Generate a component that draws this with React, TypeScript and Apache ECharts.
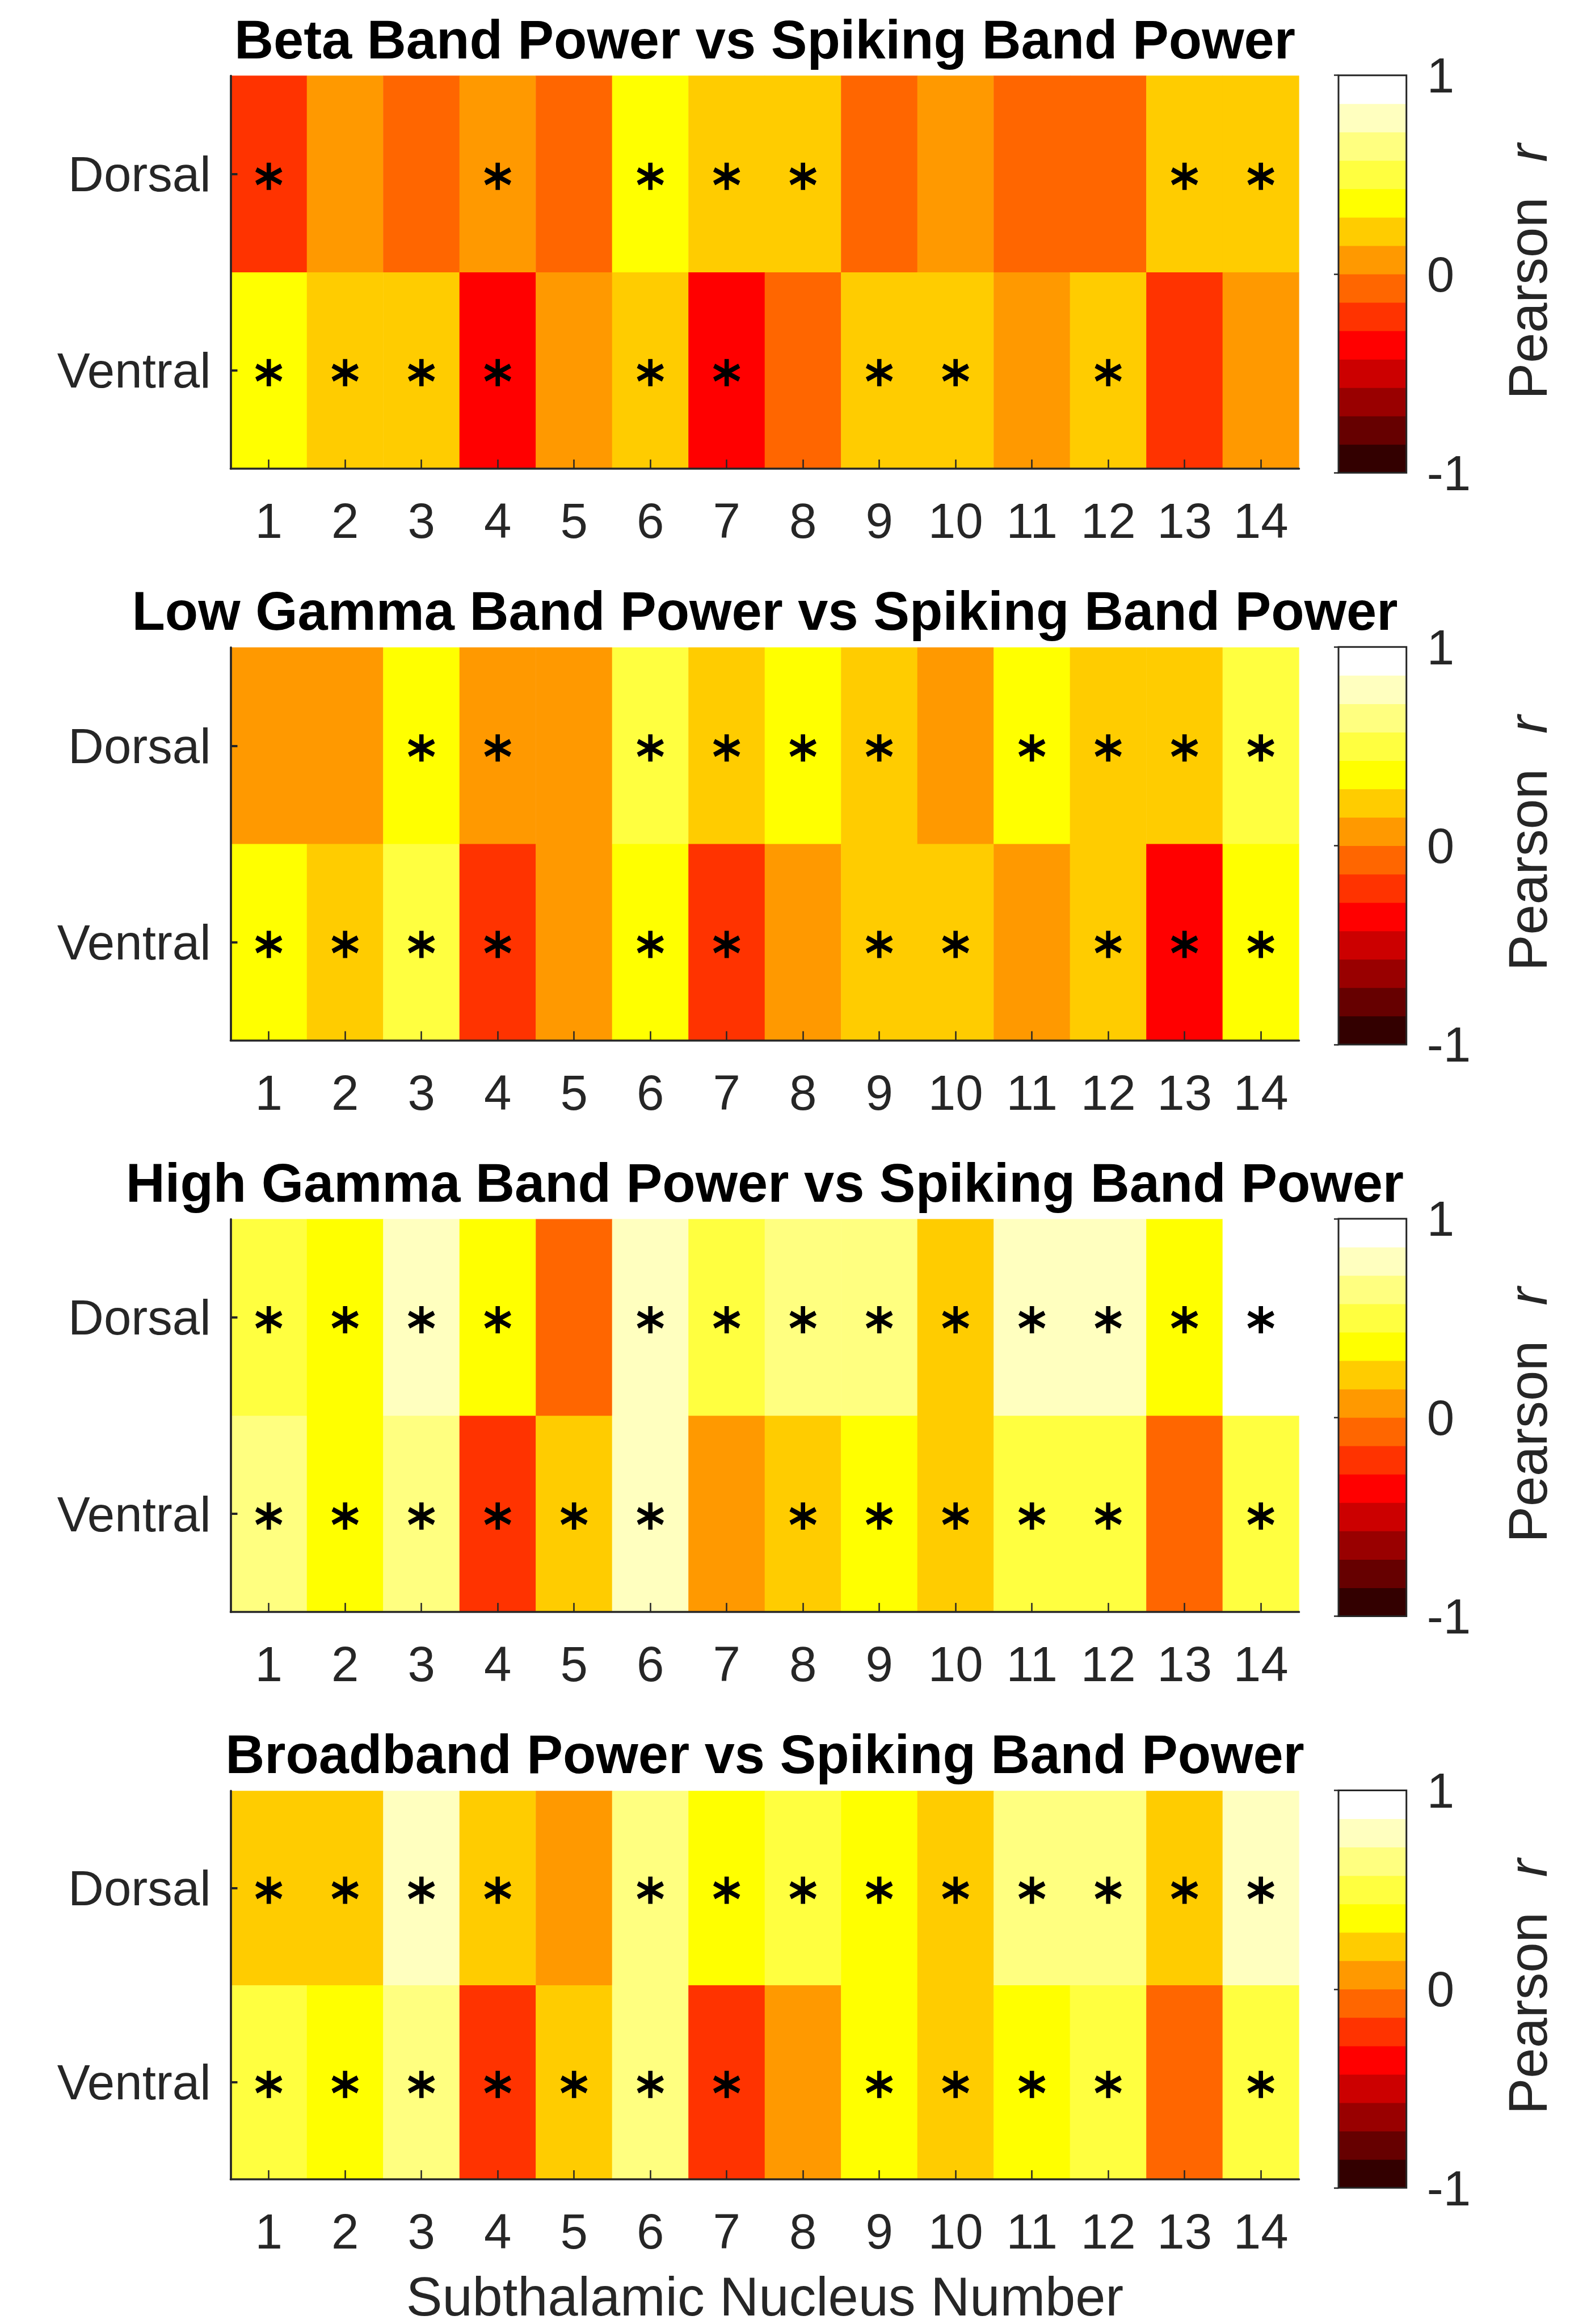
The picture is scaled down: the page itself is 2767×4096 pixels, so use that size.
import React, { useEffect, useRef } from 'react';
import * as echarts from 'echarts';

// ---------- data ----------
const nuclei = ['1', '2', '3', '4', '5', '6', '7', '8', '9', '10', '11', '12', '13', '14'];
const regions = ['Ventral', 'Dorsal'];
const panelTitles = [
  'Beta Band Power vs Spiking Band Power',
  'Low Gamma Band Power vs Spiking Band Power',
  'High Gamma Band Power vs Spiking Band Power',
  'Broadband Power vs Spiking Band Power',
];
const xAxisTitle = 'Subthalamic Nucleus Number';
const colorbarTitle = 'Pearson';
const colorbarTitleItalic = 'r';
const colorbarTicks = [-1, 0, 1];

const betaDorsal = [-0.22, 0.05, -0.08, 0.09, -0.1, 0.33, 0.2, 0.22, -0.06, 0.1, -0.12, -0.09, 0.24, 0.19];
const betaVentral = [0.34, 0.2, 0.23, -0.35, 0.08, 0.21, -0.37, -0.09, 0.25, 0.2, 0.06, 0.22, -0.2, 0.1];
const lowGammaDorsal = [0.08, 0.06, 0.35, 0.1, 0.04, 0.48, 0.22, 0.37, 0.2, 0.05, 0.33, 0.24, 0.21, 0.46];
const lowGammaVentral = [0.36, 0.19, 0.47, -0.25, 0.09, 0.39, -0.23, 0.07, 0.2, 0.22, 0.05, 0.18, -0.33, 0.4];
const highGammaDorsal = [0.5, 0.38, 0.75, 0.35, -0.1, 0.78, 0.47, 0.62, 0.65, 0.25, 0.76, 0.74, 0.33, 0.9];
const highGammaVentral = [0.6, 0.37, 0.63, -0.24, 0.2, 0.77, 0.1, 0.23, 0.39, 0.2, 0.52, 0.5, -0.05, 0.45];
const broadDorsal = [0.25, 0.22, 0.73, 0.2, 0.11, 0.6, 0.34, 0.46, 0.39, 0.2, 0.64, 0.62, 0.18, 0.79];
const broadVentral = [0.46, 0.4, 0.58, -0.18, 0.27, 0.61, -0.22, 0.12, 0.31, 0.17, 0.36, 0.53, -0.03, 0.49];

// significance (asterisk) flags
const betaDorsalSig = [1, 0, 0, 1, 0, 1, 1, 1, 0, 0, 0, 0, 1, 1];
const betaVentralSig = [1, 1, 1, 1, 0, 1, 1, 0, 1, 1, 0, 1, 0, 0];
const lowGammaDorsalSig = [0, 0, 1, 1, 0, 1, 1, 1, 1, 0, 1, 1, 1, 1];
const lowGammaVentralSig = [1, 1, 1, 1, 0, 1, 1, 0, 1, 1, 0, 1, 1, 1];
const highGammaDorsalSig = [1, 1, 1, 1, 0, 1, 1, 1, 1, 1, 1, 1, 1, 1];
const highGammaVentralSig = [1, 1, 1, 1, 1, 1, 0, 1, 1, 1, 1, 1, 0, 1];
const broadDorsalSig = [1, 1, 1, 1, 0, 1, 1, 1, 1, 1, 1, 1, 1, 1];
const broadVentralSig = [1, 1, 1, 1, 1, 1, 1, 0, 1, 1, 1, 1, 0, 1];

// MATLAB hot(14) colormap
const hotColors = [
  '#330000', '#660000', '#990000', '#CC0000', '#FF0000', '#FF3300', '#FF6600',
  '#FF9900', '#FFCC00', '#FFFF00', '#FFFF40', '#FFFF80', '#FFFFBF', '#FFFFFF',
];

const panels = [
  { title: panelTitles[0], dorsal: betaDorsal, ventral: betaVentral, dSig: betaDorsalSig, vSig: betaVentralSig },
  { title: panelTitles[1], dorsal: lowGammaDorsal, ventral: lowGammaVentral, dSig: lowGammaDorsalSig, vSig: lowGammaVentralSig },
  { title: panelTitles[2], dorsal: highGammaDorsal, ventral: highGammaVentral, dSig: highGammaDorsalSig, vSig: highGammaVentralSig },
  { title: panelTitles[3], dorsal: broadDorsal, ventral: broadVentral, dSig: broadDorsalSig, vSig: broadVentralSig },
];

// ---------- layout ----------
const W = 2767;
const H = 4096;
const FONT = '"Liberation Sans", Arial, Helvetica, sans-serif';
const TXT = '#262626';
const TICK_FS = 87;
const LABEL_FS = 95.6;
const PLOT_L = 406.5;
const PLOT_W = 1882.9;
const PLOT_H = 692.3;
const PANEL_TOP0 = 133.6;
const PANEL_STEP = 1007.6;
const CB_L = 2359;
const CB_W = 119.7;
const CB_H = 700.6;
const ASTERISK = 'path://M0,0L0,2M-0.866,0.5L0.866,1.5M-0.866,1.5L0.866,0.5';

export default function App() {
  const ref = useRef<HTMLDivElement>(null);

  useEffect(() => {
    const chart = echarts.init(ref.current!, null, { renderer: 'svg', width: W, height: H });

    const grid: any[] = [];
    const xAxis: any[] = [];
    const yAxis: any[] = [];
    const series: any[] = [];
    const graphic: any[] = [];
    const heatIdx: number[] = [];

    const nBins = hotColors.length;
    const cbBins = hotColors.map((_, i) => {
      const lo = -1 + (i * 2) / nBins;
      const hi = -1 + ((i + 1) * 2) / nBins;
      return [lo, hi, (lo + hi) / 2];
    });

    panels.forEach((p, k) => {
      const top = PANEL_TOP0 + k * PANEL_STEP;
      const isLast = k === panels.length - 1;
      grid.push({ left: PLOT_L, top, width: PLOT_W, height: PLOT_H });
      grid.push({
        left: CB_L, top: top - 0.9, width: CB_W, height: CB_H,
        show: true, borderColor: TXT, borderWidth: 3, backgroundColor: 'rgba(0,0,0,0)', z: 10,
      });

      xAxis.push({
        type: 'category', gridIndex: 2 * k, data: nuclei, z: 5,
        axisLine: { show: true, lineStyle: { color: TXT, width: 3.7 } },
        axisTick: { show: true, inside: true, length: 16, alignWithLabel: true, interval: 0, lineStyle: { color: TXT, width: 2.5 } },
        axisLabel: { interval: 0, fontSize: TICK_FS, fontFamily: FONT, color: TXT, margin: 48 },
        splitLine: { show: false },
        name: isLast ? xAxisTitle : '',
        nameLocation: 'middle',
        nameGap: 158,
        nameTextStyle: { fontSize: LABEL_FS, fontFamily: FONT, color: TXT },
      });
      xAxis.push({ type: 'value', gridIndex: 2 * k + 1, min: 0, max: 1, show: false });

      yAxis.push({
        type: 'category', gridIndex: 2 * k, data: regions, z: 5,
        axisLine: { show: true, lineStyle: { color: TXT, width: 3.7 } },
        axisTick: { show: true, inside: true, length: 12, alignWithLabel: true, lineStyle: { color: TXT, width: 4 } },
        axisLabel: { fontSize: TICK_FS, fontFamily: FONT, color: TXT, margin: 35 },
        splitLine: { show: false },
      });
      yAxis.push({
        type: 'value', gridIndex: 2 * k + 1, min: colorbarTicks[0], max: colorbarTicks[2], interval: 1,
        position: 'right', z: 11,
        axisLine: { show: false },
        axisTick: { show: true, inside: true, length: 8, lineStyle: { color: TXT, width: 2.5 } },
        axisLabel: {
          fontSize: TICK_FS, fontFamily: FONT, color: TXT, margin: 36, align: 'left',
          formatter: (v: number) => String(v),
        },
        splitLine: { show: false },
      });

      const heatData: any[] = [];
      const starData: any[] = [];
      nuclei.forEach((_, j) => {
        heatData.push([j, 0, p.ventral[j]]);
        heatData.push([j, 1, p.dorsal[j]]);
        if (p.vSig[j]) starData.push([j, 0]);
        if (p.dSig[j]) starData.push([j, 1]);
      });

      heatIdx.push(series.length);
      series.push({
        type: 'heatmap', xAxisIndex: 2 * k, yAxisIndex: 2 * k, data: heatData, silent: true,
        itemStyle: { borderWidth: 0 }, label: { show: false }, progressive: 0,
      });
      series.push({
        type: 'scatter', xAxisIndex: 2 * k, yAxisIndex: 2 * k, data: starData, silent: true, z: 4,
        symbol: ASTERISK, symbolSize: [44, 48], symbolOffset: [0, 4],
        itemStyle: { color: 'rgba(0,0,0,0)', borderColor: '#000', borderWidth: 8, opacity: 1 },
      });
      heatIdx.push(series.length);
      series.push({
        type: 'custom', xAxisIndex: 2 * k + 1, yAxisIndex: 2 * k + 1, data: cbBins, silent: true,
        renderItem: (params: any, api: any) => {
          const lo = api.value(0);
          const hi = api.value(1);
          const a = api.coord([0, hi]);
          const b = api.coord([1, lo]);
          return {
            type: 'rect',
            shape: { x: a[0], y: a[1] - 0.5, width: b[0] - a[0], height: b[1] - a[1] + 1 },
            style: { fill: api.visual('color') },
          };
        },
      });

      // panel title
      graphic.push({
        type: 'text', x: PLOT_L + PLOT_W / 2, y: top - 64.6, silent: true,
        style: {
          text: p.title, fontSize: LABEL_FS, fontWeight: 'bold', fontFamily: FONT, fill: '#000',
          align: 'center', verticalAlign: 'middle', textAlign: 'center', textVerticalAlign: 'middle',
        },
      });
      // colorbar label: "Pearson" and italic "r"
      graphic.push({
        type: 'text', x: 2692, y: top + 392, rotation: Math.PI / 2, silent: true,
        style: {
          text: colorbarTitle, fontSize: LABEL_FS, fontFamily: FONT, fill: TXT,
          align: 'center', verticalAlign: 'middle', textAlign: 'center', textVerticalAlign: 'middle',
        },
      });
      graphic.push({
        type: 'text', x: 2692, y: top + 136, rotation: Math.PI / 2, silent: true,
        style: {
          text: colorbarTitleItalic, fontSize: LABEL_FS, fontFamily: FONT, fontStyle: 'italic', fill: TXT,
          align: 'center', verticalAlign: 'middle', textAlign: 'center', textVerticalAlign: 'middle',
        },
      });
    });

    const pieces = hotColors.map((c, i) => {
      const lo = -1 + (i * 2) / nBins;
      const hi = -1 + ((i + 1) * 2) / nBins;
      return i === nBins - 1 ? { gte: lo, lte: hi, color: c } : { gte: lo, lt: hi, color: c };
    });

    chart.setOption({
      animation: false,
      backgroundColor: '#ffffff',
      grid, xAxis, yAxis, series, graphic,
      visualMap: {
        type: 'piecewise', show: false, dimension: 2, seriesIndex: heatIdx, pieces,
      },
    });

    return () => chart.dispose();
  }, []);

  return (
    <div
      ref={ref}
      style={{ position: 'absolute', left: 0, top: 0, width: W, height: H, background: '#fff' }}
    />
  );
}
